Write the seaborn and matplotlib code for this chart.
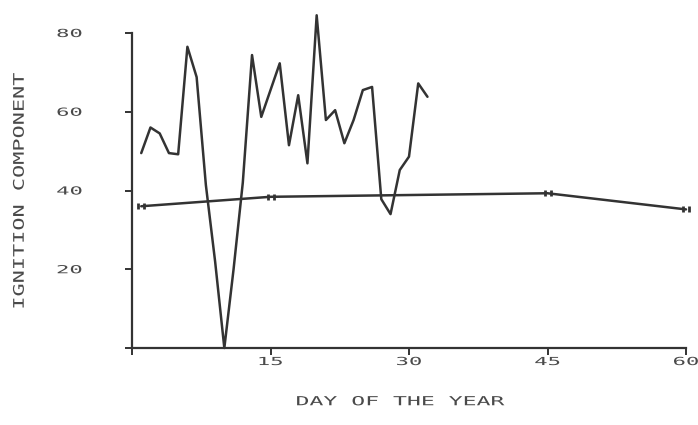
import matplotlib
matplotlib.use("Agg")
import matplotlib.pyplot as plt
import numpy as np
import pandas as pd
import seaborn as sns
from matplotlib.path import Path
from matplotlib.patheffects import AbstractPathEffect
from matplotlib.transforms import Affine2D

# Daily ignition component, first month
daily_days = list(range(1, 33))
daily_values = [49.5, 56, 54.5, 49.5, 49.2, 76.5, 68.8, 41.4, 22, 0,
                20, 42, 74.4, 58.7, 65.5, 72.3, 51.5, 64.2, 46.9, 84.5,
                57.9, 60.4, 52, 57.9, 65.5, 66.3, 37.8, 34, 45.2, 48.6,
                67.2, 63.8]

# Smoothed seasonal curve
trend_days = [1, 15, 45, 60]
trend_values = [36.0, 38.4, 39.3, 35.2]

x_ticks = [0, 15, 30, 45, 60]
x_tick_labels = ["", "15", "30", "45", "60"]
y_ticks = [0, 20, 40, 60, 80]
y_tick_labels = ["", "20", "40", "60", "80"]

x_title = "DAY OF THE YEAR"
y_title = "IGNITION COMPONENT"


class Widen(AbstractPathEffect):
    """Stretch glyph outlines along the text direction, about their centre."""

    def __init__(self, sx):
        super().__init__()
        self.sx = sx

    def draw_path(self, renderer, gc, tpath, affine, rgbFace=None):
        ext = tpath.get_extents()
        cx = (ext.x0 + ext.x1) / 2.0
        stretch = Affine2D().translate(-cx, 0).scale(self.sx, 1.0).translate(cx, 0)
        renderer.draw_path(gc, tpath, stretch + affine, rgbFace)


sns.set_theme(style="ticks")
plt.rcParams["font.family"] = ["DejaVu Sans Mono", "DejaVu Sans"]

INK = "#333333"
TEXT = "#4a4a4a"

fig = plt.figure(figsize=(6.98, 4.25), dpi=100)
ax = fig.add_axes([132 / 698, 1 - 348 / 425, 554 / 698, 315 / 425])

daily = pd.DataFrame({"day": daily_days, "ic": daily_values})
trend = pd.DataFrame({"day": trend_days, "ic": trend_values})

# double-bar plotter marker
bars = Path([(-1, -1), (-1, 1), (1, -1), (1, 1)],
            [Path.MOVETO, Path.LINETO, Path.MOVETO, Path.LINETO])

sns.lineplot(data=daily, x="day", y="ic", ax=ax, color=INK, lw=1.8,
             clip_on=False, zorder=3)
sns.lineplot(data=trend, x="day", y="ic", ax=ax, color=INK, lw=1.8,
             marker=bars, markersize=5, mew=2.0, mec=INK, mfc="none",
             clip_on=False, zorder=3)

ax.set_xlim(0, 60)
ax.set_ylim(0, 80)
sns.despine(ax=ax)
for side in ("left", "bottom"):
    ax.spines[side].set_color(INK)
    ax.spines[side].set_linewidth(1.6)

ax.set_xticks(x_ticks)
ax.set_xticklabels(x_tick_labels)
ax.set_yticks(y_ticks)
ax.set_yticklabels(y_tick_labels)
ax.tick_params(axis="both", direction="out", length=5, width=1.4,
               color=INK, labelcolor=TEXT, labelsize=8)
ax.tick_params(axis="y", pad=40)
ax.tick_params(axis="x", pad=1.5)
for lab in ax.get_yticklabels():
    lab.set_ha("center")
    lab.set_path_effects([Widen(2.0)])
for lab in ax.get_xticklabels():
    lab.set_path_effects([Widen(2.0)])

ax.set_xlabel(x_title, fontsize=9, color=TEXT)
ax.set_ylabel(y_title, fontsize=10.5, color=TEXT)
ax.xaxis.set_label_coords(0.484, -0.15)
ax.yaxis.set_label_coords(-0.19, 0.498)
ax.xaxis.label.set_path_effects([Widen(1.85)])
ax.yaxis.label.set_path_effects([Widen(1.5)])

fig.savefig("out.png", dpi=100, facecolor="white")
